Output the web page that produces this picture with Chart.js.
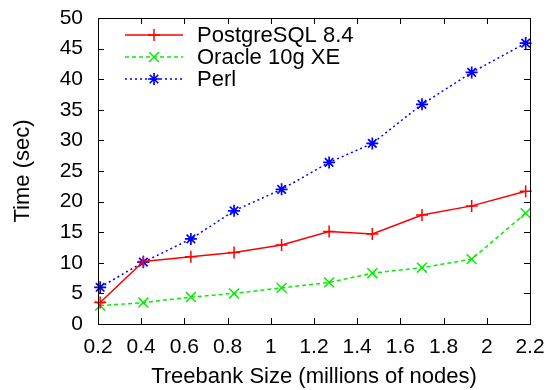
<!DOCTYPE html>
<html>
<head>
<meta charset="utf-8">
<script src="https://cdn.jsdelivr.net/npm/chart.js@4"></script>
<style>
  html, body { margin: 0; padding: 0; background: #fff; }
  #wrap { width: 551px; height: 390px; }
</style>
</head>
<body>
<div id="wrap"><canvas id="chart" width="551" height="390"></canvas></div>
<script>
"use strict";

// values
const treebankSizes = [0.21, 0.41, 0.63, 0.83, 1.05, 1.27, 1.47, 1.70, 1.93, 2.18];
const postgresTimes = [3.5, 10.2, 11.0, 11.7, 12.9, 15.1, 14.7, 17.8, 19.3, 21.7];
const oracleTimes   = [3.0, 3.5, 4.4, 5.0, 5.9, 6.8, 8.3, 9.2, 10.6, 18.1];
const perlTimes     = [6.0, 10.1, 13.9, 18.5, 22.0, 26.4, 29.5, 35.9, 41.1, 45.9];
const seriesNames   = ["PostgreSQL 8.4", "Oracle 10g XE", "Perl"];

const FONT = "'Liberation Sans', Arial, Helvetica, sans-serif";

function points(values) {
  return values.map((v, i) => ({x: treebankSizes[i], y: v}));
}

// gnuplot style frame with inward ticks on all four sides
const framePlugin = {
  id: "frame",
  afterDraw(chart) {
    const ctx = chart.ctx;
    const a = chart.chartArea;
    const xs = chart.scales.x, ys = chart.scales.y;
    const len = 6;
    ctx.save();
    ctx.strokeStyle = "#000";
    ctx.lineWidth = 1;
    ctx.strokeRect(a.left + 0.5, a.top + 0.5, a.right - a.left, a.bottom - a.top);
    ctx.beginPath();
    for (const t of xs.ticks) {
      const px = Math.round(xs.getPixelForValue(t.value)) + 0.5;
      ctx.moveTo(px, a.bottom); ctx.lineTo(px, a.bottom - len);
      ctx.moveTo(px, a.top); ctx.lineTo(px, a.top + len);
    }
    for (const t of ys.ticks) {
      const py = Math.round(ys.getPixelForValue(t.value)) + 0.5;
      ctx.moveTo(a.left, py); ctx.lineTo(a.left + len, py);
      ctx.moveTo(a.right, py); ctx.lineTo(a.right - len, py);
    }
    ctx.stroke();
    ctx.restore();
  }
};

// legend with line sample + marker, like gnuplot's key
const keyPlugin = {
  id: "key",
  afterDraw(chart) {
    const ctx = chart.ctx;
    const x0 = 125, x1 = 183, tx = 197;
    const rows = [35, 57, 79];
    ctx.save();
    chart.data.datasets.forEach((ds, i) => {
      const y = rows[i];
      ctx.strokeStyle = ds.borderColor;
      ctx.lineWidth = ds.borderWidth;
      ctx.setLineDash(ds.borderDash || []);
      ctx.beginPath();
      ctx.moveTo(x0, y); ctx.lineTo(x1, y);
      ctx.stroke();
      ctx.setLineDash([]);
      ctx.fillStyle = ds.borderColor;
      ctx.lineWidth = ds.pointBorderWidth;
      Chart.helpers.drawPoint(ctx, {pointStyle: ds.pointStyle, radius: ds.pointRadius,
                                    borderWidth: ds.pointBorderWidth, rotation: 0},
                              (x0 + x1) / 2, y);
      ctx.fillStyle = "#000";
      ctx.font = "22px " + FONT;
      ctx.textBaseline = "middle";
      ctx.textAlign = "left";
      ctx.fillText(ds.label, tx, y + 1);
    });
    ctx.restore();
  }
};

const datasets = [
  {label: seriesNames[0], data: points(postgresTimes), borderColor: "#ff0000",
   borderWidth: 1.5, pointStyle: "cross", pointRadius: 6, pointBorderWidth: 1.5},
  {label: seriesNames[1], data: points(oracleTimes), borderColor: "#00f000",
   borderWidth: 1.5, borderDash: [4, 3], pointStyle: "crossRot", pointRadius: 7,
   pointBorderWidth: 1.5},
  {label: seriesNames[2], data: points(perlTimes), borderColor: "#0000ff",
   borderWidth: 1.5, borderDash: [2, 3], pointStyle: "star", pointRadius: 6,
   pointBorderWidth: 1.7}
];
datasets.forEach(d => {
  d.backgroundColor = d.borderColor;
  d.pointBorderColor = d.borderColor;
  d.pointBackgroundColor = d.borderColor;
  d.fill = false;
  d.tension = 0;
  d.clip = false;
});

const chart = new Chart(document.getElementById("chart"), {
  type: "line",
  data: {datasets: datasets},
  plugins: [framePlugin, keyPlugin],
  options: {
    responsive: false,
    animation: false,
    events: [],
    // frame at left 98, right 530, top 18, bottom 324
    layout: {padding: {left: 0, right: 21, top: 18, bottom: 0}},
    plugins: {legend: {display: false}, tooltip: {enabled: false}},
    scales: {
      x: {
        type: "linear", min: 0.2, max: 2.2,
        ticks: {stepSize: 0.2, color: "#000", padding: 11, maxRotation: 0,
                font: {family: FONT, size: 21},
                callback: v => String(Number(v.toFixed(1)))},
        grid: {display: false, drawTicks: false},
        border: {display: false},
        title: {display: true, text: "Treebank Size (millions of nodes)", color: "#000",
                font: {family: FONT, size: 22}, padding: {top: 0, bottom: 0}},
        afterFit: s => { s.height = 66; s.paddingLeft = 0; s.paddingRight = 0; }
      },
      y: {
        min: 0, max: 50,
        ticks: {stepSize: 5, color: "#000", padding: 15,
                font: {family: FONT, size: 21}},
        grid: {display: false, drawTicks: false},
        border: {display: false},
        title: {display: true, text: "Time (sec)", color: "#000",
                font: {family: FONT, size: 22}, padding: {top: 10, bottom: 0}},
        afterFit: s => { s.width = 98; s.paddingTop = 0; s.paddingBottom = 0; }
      }
    }
  }
});
</script>
</body>
</html>
